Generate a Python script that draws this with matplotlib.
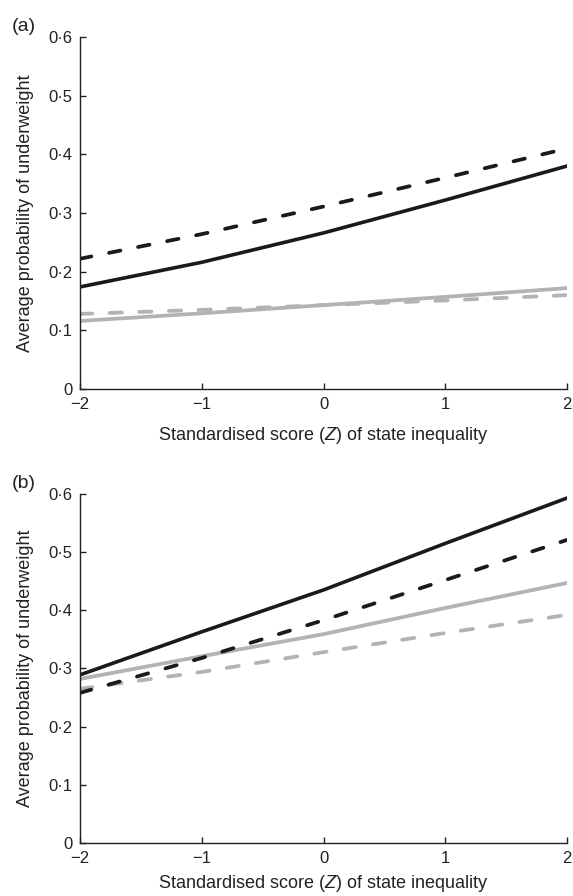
import numpy as np
import matplotlib
matplotlib.use("Agg")
import matplotlib.pyplot as plt

plt.rcParams['font.family'] = ['Liberation Sans', 'DejaVu Sans']
plt.rcParams['mathtext.fontset'] = 'custom'
plt.rcParams['mathtext.it'] = 'Liberation Sans:italic'
plt.rcParams['mathtext.rm'] = 'Liberation Sans'

z = [-2, -1, 0, 1, 2]

# panel (a)
a_black_solid = [0.174, 0.216, 0.266, 0.322, 0.380]
a_black_dash = [0.222, 0.264, 0.311, 0.360, 0.410]
a_grey_solid = [0.116, 0.129, 0.143, 0.157, 0.172]
a_grey_dash = [0.128, 0.135, 0.143, 0.151, 0.160]

# panel (b)
b_black_solid = [0.289, 0.363, 0.435, 0.515, 0.593]
b_black_dash = [0.258, 0.318, 0.383, 0.452, 0.521]
b_grey_solid = [0.282, 0.321, 0.359, 0.404, 0.447]
b_grey_dash = [0.265, 0.294, 0.328, 0.361, 0.392]

xticks = [-2, -1, 0, 1, 2]
xticklabels = ['\u22122', '\u22121', '0', '1', '2']
yticks = [0, 0.1, 0.2, 0.3, 0.4, 0.5, 0.6]
yticklabels = ['0', '0\u00b71', '0\u00b72', '0\u00b73', '0\u00b74', '0\u00b75', '0\u00b76']

BLACK = '#1a1a1a'
GREY = '#b3b3b3'
TXT = '#222222'

fig = plt.figure(figsize=(5.73, 8.96), dpi=100)
ax1 = fig.add_axes([0.1396, 0.5658, 0.85, 0.393])
ax2 = fig.add_axes([0.1396, 0.0592, 0.85, 0.3895])


def draw(ax, bs, bd, gs, gd, tag, xpad):
    ax.plot(z, gs, color=GREY, lw=2.7, solid_capstyle='round')
    ax.plot(z, gd, color=GREY, lw=2.7, dashes=(3.3, 4.6), dash_capstyle='round')
    ax.plot(z, bs, color=BLACK, lw=2.6, solid_capstyle='round')
    ax.plot(z, bd, color=BLACK, lw=2.7, dashes=(3.1, 4.8), dash_capstyle='round')
    ax.set_xlim(-2, 2)
    ax.set_ylim(0, 0.6)
    ax.set_xticks(xticks)
    ax.set_xticklabels(xticklabels)
    ax.set_yticks(yticks)
    ax.set_yticklabels(yticklabels)
    ax.spines['top'].set_visible(False)
    ax.spines['right'].set_visible(False)
    for s in ['left', 'bottom']:
        ax.spines[s].set_linewidth(1.0)
        ax.spines[s].set_color(TXT)
    ax.tick_params(direction='in', length=4, width=1.0, labelsize=12,
                   colors=TXT)
    ax.tick_params(axis='x', pad=6)
    ax.tick_params(axis='y', pad=5.5)
    ax.set_xlabel('Standardised score ($\\mathit{Z}$) of state inequality', fontsize=13,
                  labelpad=xpad, color=TXT)
    ax.set_ylabel('Average probability of underweight', fontsize=13, labelpad=10,
                  color=TXT)
    ax.text(-0.115, 1.03, tag, transform=ax.transAxes, fontsize=14, color=TXT,
            ha='center', va='center')


draw(ax1, a_black_solid, a_black_dash, a_grey_solid, a_grey_dash, '(a)', 9)
draw(ax2, b_black_solid, b_black_dash, b_grey_solid, b_grey_dash, '(b)', 5)

fig.savefig('out.png', dpi=100)
